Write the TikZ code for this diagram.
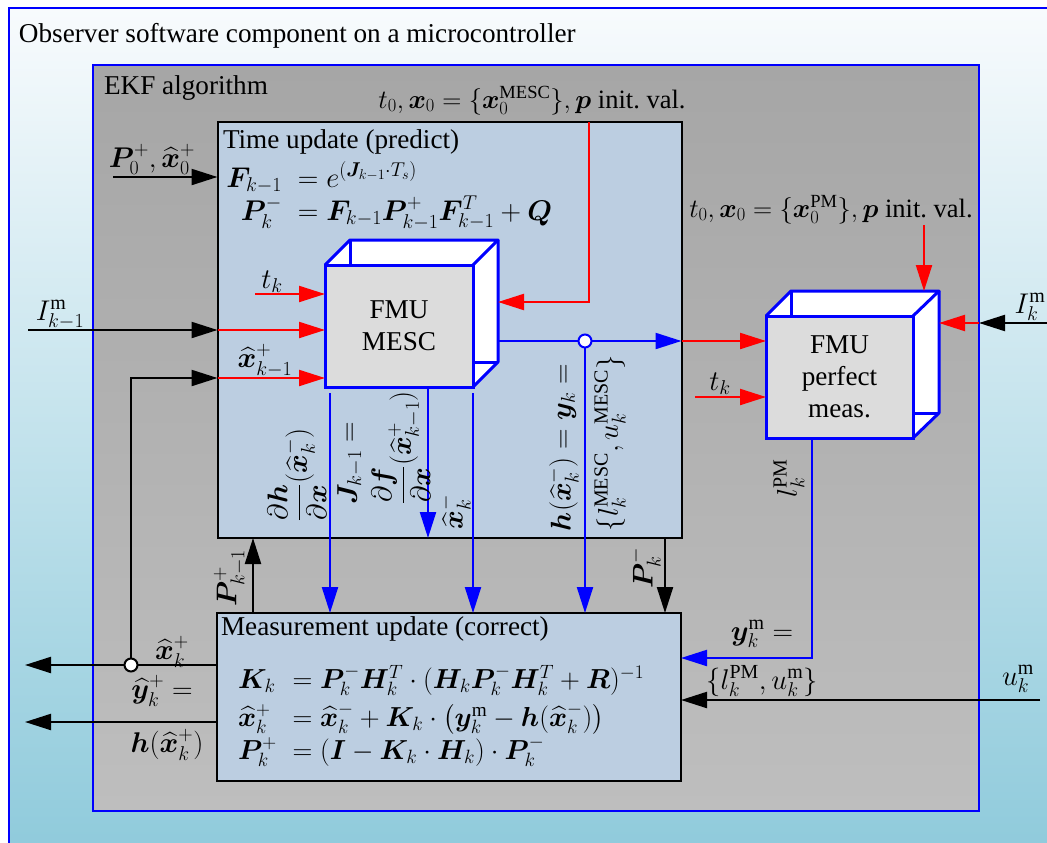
\RequirePackage{fix-cm}
\documentclass[tikz,border=0pt]{standalone}
\usepackage{amsmath}
\usepackage{bm}
\usepackage{fontspec}
\setmainfont{Liberation Serif}
\usetikzlibrary{arrows.meta,calc}
\definecolor{bgtop}{RGB}{248,251,253}
\definecolor{bgbot}{RGB}{142,202,219}
\definecolor{ekftop}{RGB}{166,166,166}
\definecolor{ekfbot}{RGB}{190,190,190}
\definecolor{boxfill}{RGB}{188,206,225}
\definecolor{fmufront}{RGB}{220,220,220}
\newcommand{\hx}{\widehat{\bm{x}}}
\begin{document}
\begin{tikzpicture}[x=1pt,y=-1pt,
  every node/.style={font=\fontsize{27.2}{32}\selectfont, inner sep=0pt, outer sep=0pt},
  mth/.style={font=\fontsize{28.5}{32}\selectfont},
  mthm/.style={font=\fontsize{27.5}{32}\selectfont},
  initlab/.style={font=\fontsize{26.5}{32}\selectfont},
  ln/.style={line width=2.2pt},
  tip/.style={-{Triangle[length=26pt,width=16pt]}},
  blk/.style={ln,tip,black},
  rd/.style={ln,tip,red},
  bl/.style={ln,tip,blue},
  panel/.style={draw=black,line width=2pt,fill=boxfill},
  face/.style={draw=blue,line width=3pt,line join=round},
  frontface/.style={draw=blue,line width=3pt,fill=fmufront,align=center},
  junc/.style={circle,draw,line width=2pt,fill=white,minimum size=13pt}]

\useasboundingbox (0,0) rectangle (1047,843);
\clip (0,0) rectangle (1047,843);
\fill[white] (0,0) rectangle (1047,843);
\shadedraw[top color=bgtop,bottom color=bgbot,draw=blue,line width=1.5pt] (9,8) rectangle (1070,860);
\node[anchor=base west] (title) at (19,43) {Observer software component on a microcontroller};

% EKF box
\node[draw=blue,line width=2pt,top color=ekftop,bottom color=ekfbot,minimum width=886pt,minimum height=746pt] (ekf) at (536,438) {};
\node[anchor=base west] (ekflabel) at (104,95) {EKF algorithm};

% panels
\node[panel,minimum width=464pt,minimum height=416pt] (tu) at (449.5,330) {};
\node[panel,minimum width=464pt,minimum height=168pt] (mu) at (449,697) {};

% MESC cube
\fill[white] (325,265) -- (350,240) -- (498,240) -- (498,362) -- (473,387) -- cycle;
\draw[face] (325,265) -- (350,240) -- (498,240) -- (473,265);
\draw[face] (498,240) -- (498,362) -- (473,387);
\draw[face] (350,240) -- (350,265);
\draw[face] (473,362) -- (498,362);
\node[frontface,minimum width=148pt,minimum height=122pt] (mesc) at (399,326) {FMU\\MESC};

% PM cube
\fill[white] (766,316) -- (791,291) -- (939,291) -- (939,413) -- (913,438) -- cycle;
\draw[face] (766,316) -- (791,291) -- (939,291) -- (913,316);
\draw[face] (939,291) -- (939,413) -- (913,438);
\draw[face] (791,291) -- (791,316);
\draw[face] (913,413) -- (939,413);
\node[frontface,minimum width=147pt,minimum height=122pt] (pm) at (839.5,377) {FMU\\perfect\\meas.};

% coordinates
\coordinate (p0) at (113,177);
\coordinate (minit) at (589,122);
\coordinate (mescR) at (498,302);
\coordinate (mescout) at (498,341);
\coordinate (b1) at (330,393);
\coordinate (b2) at (428,387);
\coordinate (b3) at (473,393);
\coordinate (ikm1) at (28,330);
\coordinate (tk1) at (255,294);
\coordinate (xk1) at (131,378);
\coordinate (xout) at (25,665);
\coordinate (yout) at (25,722);
\coordinate (pk1) at (253,613);
\coordinate (pkm) at (665,538);
\coordinate (tk2) at (695,397);
\coordinate (pinit) at (924,225);
\coordinate (pmtop) at (924,291);
\coordinate (ikm) at (1047,323);
\coordinate (pmR) at (939,323);
\coordinate (lpm) at (812,438);
\coordinate (ym) at (681,658);
\coordinate (um) at (1040,700);

% connectors
\draw[blk] (p0) -- (p0 -| tu.west);
\draw[rd] (minit) |- (mescR);
\draw[bl] (mescout) -- (mescout -| tu.east);
\draw[rd] (mescout -| tu.east) -- (mescout -| pm.west);
\draw[bl] (585,341) -- (585,613);
\draw[bl] (b1) -- (b1 |- mu.north);
\draw[bl] (b2) -- (b2 |- tu.south);
\draw[bl] (b3) -- (b3 |- mu.north);
\draw[blk] (ikm1) -- (ikm1 -| tu.west);
\draw[rd] (ikm1 -| tu.west) -- (ikm1 -| mesc.west);
\draw[rd] (tk1) -- (tk1 -| mesc.west);
\draw[blk] (131,665) |- (xk1 -| tu.west);
\draw[rd] (xk1 -| tu.west) -- (xk1 -| mesc.west);
\draw[blk] (xout -| mu.west) -- (xout);
\draw[blk] (yout -| mu.west) -- (yout);
\draw[blk] (pk1 |- mu.north) -- (pk1 |- tu.south);
\draw[blk] (pkm |- tu.south) -- (pkm |- mu.north);
\draw[rd] (tk2) -- (tk2 -| pm.west);
\draw[rd] (pinit) -- (pmtop);
\draw[blk] (ikm) -- (ikm -| ekf.east);
\draw[rd] (ikm -| ekf.east) -- (pmR);
\draw[bl] (lpm) |- (ym);
\draw[blk] (um) -- (um -| mu.east);

\node[junc,draw=blue] (j1) at (585,341) {};
\node[junc,draw=black] (j2) at (131,665) {};

% labels
\node[initlab,anchor=base] (lmesc) at (532,108) {$t_0, \bm{x}_0 = \{\bm{x}_0^{\mathrm{MESC}}\}, \bm{p}$ init.\ val.};
\node[initlab,anchor=base] (lpmi) at (831,217) {$t_0, \bm{x}_0 = \{\bm{x}_0^{\mathrm{PM}}\}, \bm{p}$ init.\ val.};
\node[anchor=base west] (tutitle) at (223,148) {Time update (predict)};
\node[mth,anchor=base] (lp0) at (152,167) {$\bm{P}_0^+, \hx_0^+$};
\node[mth,anchor=base east] (eqF) at (282,187) {$\bm{F}_{k-1}$};
\node[mth,anchor=base west] (eqFr) at (290,187) {${}= e^{(\bm{J}_{k-1}\cdot T_s)}$};
\node[mth,anchor=base east] (eqP) at (282,220) {$\bm{P}_k^-$};
\node[mth,anchor=base west] (eqPr) at (290,220) {${}= \bm{F}_{k-1}\bm{P}_{k-1}^+\bm{F}_{k-1}^T+\bm{Q}$};
\node[mth,anchor=base] (ltk1) at (272,288) {$t_k$};
\node[mth,anchor=base] (likm1) at (60,320) {$I_{k-1}^{\mathrm{m}}$};
\node[mth,anchor=base] (lxk1) at (265,367) {$\hx_{k-1}^+$};
\node[mth,anchor=base] (ltk2) at (720,390) {$t_k$};
\node[mth,anchor=base] (likm) at (1030,313) {$I_k^{\mathrm{m}}$};
\node[mth,rotate=90] (llpm) at (789,478) {$l_k^{\mathrm{PM}}$};
\node[mth,anchor=base] (lym) at (762,640) {$\bm{y}_k^{\mathrm{m}} =$};
\node[mth,anchor=base] (lyset) at (762,689) {$\{l_k^{\mathrm{PM}}, u_k^{\mathrm{m}}\}$};
\node[mth,anchor=base] (lum) at (1018,685) {$u_k^{\mathrm{m}}$};

\node[mth,rotate=90] (ldh) at (297,475) {$\dfrac{\partial \bm{h}}{\partial \bm{x}}(\hx_k^-)$};
\node[mth,rotate=90,anchor=west] (lJ) at (350,504) {$\bm{J}_{k-1} =$};
\node[mth,rotate=90,anchor=west] (ldf) at (401,504) {$\dfrac{\partial \bm{f}}{\partial \bm{x}}(\hx_{k-1}^+)$};
\node[mth,rotate=90] (lxkm) at (455,512) {$\hx_k^-$};
\node[mth,rotate=90,anchor=west] (lh) at (563,531) {$\bm{h}(\hx_k^-) = \bm{y}_k =$};
\node[mth,rotate=90,anchor=west] (lhset) at (610,531) {$\{l_k^{\mathrm{MESC}}, u_k^{\mathrm{MESC}}\}$};
\node[mth,rotate=90] (lpk1) at (230,578) {$\bm{P}_{k-1}^+$};
\node[mth,rotate=90] (lpkm) at (645,568) {$\bm{P}_k^-$};

\node[anchor=base west] (mutitle) at (221,635) {Measurement update (correct)};
\node[mthm,anchor=base west] (eqK) at (238,688) {$\bm{K}_k$};
\node[mthm,anchor=base west] (eqKr) at (285,688) {${}= \bm{P}_k^-\bm{H}_k^T\cdot(\bm{H}_k\bm{P}_k^-\bm{H}_k^T+\bm{R})^{-1}$};
\node[mthm,anchor=base west] (eqX) at (238,726) {$\hx_k^+$};
\node[mthm,anchor=base west] (eqXr) at (285,726) {${}= \hx_k^- + \bm{K}_k\cdot\bigl(\bm{y}_k^{\mathrm{m}}-\bm{h}(\hx_k^-)\bigr)$};
\node[mthm,anchor=base west] (eqPp) at (238,759) {$\bm{P}_k^+$};
\node[mthm,anchor=base west] (eqPpr) at (285,759) {${}= (\bm{I}-\bm{K}_k\cdot\bm{H}_k)\cdot\bm{P}_k^-$};

\node[mth,anchor=base] (lxkp) at (172,659) {$\hx_k^+$};
\node[mth,anchor=base] (lyhat) at (162,698) {$\widehat{\bm{y}}_k^+ =$};
\node[mth,anchor=base] (lhx) at (167,752) {$\bm{h}(\hx_k^+)$};
\end{tikzpicture}
\end{document}
